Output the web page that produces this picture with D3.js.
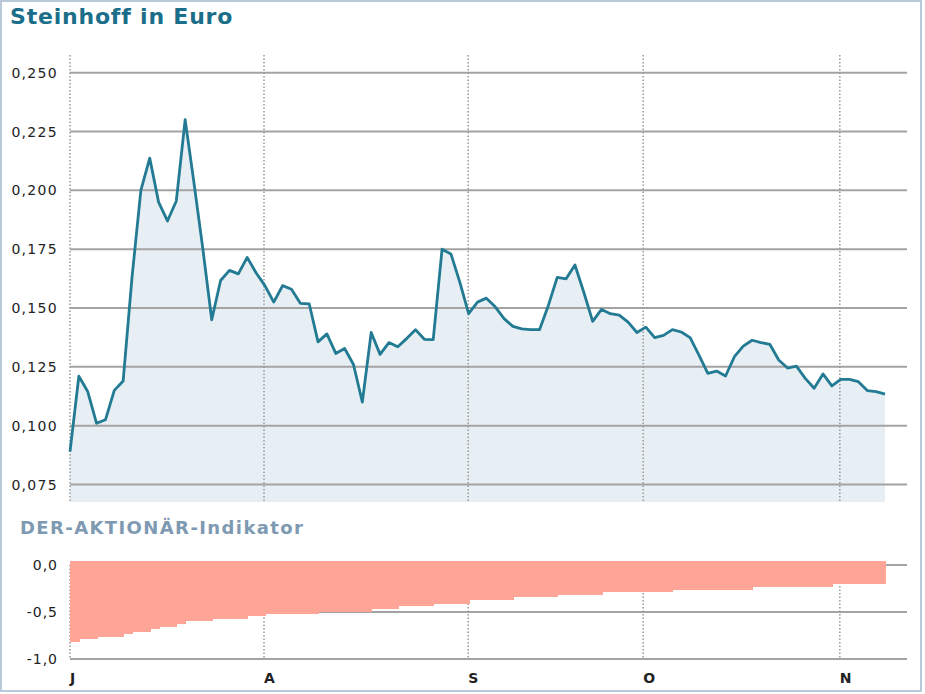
<!DOCTYPE html>
<html><head><meta charset="utf-8">
<script src="https://cdn.jsdelivr.net/npm/d3@7"></script>
<style>body{margin:0;background:#fff}svg{display:block}</style>
</head><body>
<svg id="c" width="925" height="694"></svg>
<script>
// ---- data ----
const title = "Steinhoff in Euro";
const subtitle = "DER-AKTIONÄR-Indikator";
const priceValues = [0.089,0.121,0.1145,0.101,0.1025,0.115,0.119,0.163,0.200,0.2137,
0.195,0.187,0.1955,0.230,0.203,0.175,0.145,0.1617,0.166,0.1645,
0.1715,0.165,0.1595,0.1525,0.1595,0.158,0.152,0.1518,0.1356,0.139,
0.1307,0.1328,0.126,0.110,0.1396,0.1303,0.1353,0.1335,0.137,0.1408,
0.1367,0.1366,0.175,0.173,0.161,0.1476,0.1525,0.1542,0.1505,0.1455,
0.1422,0.1411,0.1408,0.1408,0.1511,0.163,0.1624,0.1683,0.1567,0.1443,
0.1494,0.1476,0.147,0.144,0.1396,0.1419,0.1374,0.1384,0.1408,0.1398,
0.1374,0.130,0.1222,0.1232,0.1211,0.1293,0.1338,0.1363,0.1353,0.1346,
0.1279,0.1245,0.1253,0.1201,0.1159,0.122,0.1169,0.1197,0.1197,0.1187,
0.1149,0.1145,0.1134];
const indicatorValues = [-0.816,-0.79,-0.79,-0.763,-0.763,-0.763,-0.734,-0.71,-0.71,-0.68,
-0.656,-0.656,-0.628,-0.60,-0.60,-0.60,-0.57,-0.57,-0.57,-0.57,
-0.546,-0.546,-0.521,-0.521,-0.521,-0.521,-0.521,-0.521,-0.50,-0.50,
-0.50,-0.50,-0.50,-0.50,-0.465,-0.465,-0.465,-0.436,-0.436,-0.436,
-0.436,-0.41,-0.41,-0.41,-0.41,-0.372,-0.372,-0.372,-0.372,-0.372,
-0.344,-0.344,-0.344,-0.344,-0.344,-0.319,-0.319,-0.319,-0.319,-0.319,
-0.29,-0.29,-0.29,-0.29,-0.29,-0.29,-0.29,-0.29,-0.266,-0.266,
-0.266,-0.266,-0.266,-0.266,-0.266,-0.266,-0.266,-0.238,-0.238,-0.238,
-0.238,-0.238,-0.238,-0.238,-0.238,-0.238,-0.206,-0.206,-0.206,-0.206,
-0.206,-0.206];
const monthLabels = ["J","A","S","O","N"];
const monthPos = [0, 21.9, 44.95, 64.7, 86.9];
const priceTicks = [0.075,0.100,0.125,0.150,0.175,0.200,0.225,0.250];
const indicatorTicks = [0,-0.5,-1];

// ---- layout ----
const svg = d3.select("#c");
const left = 70, right = 907, lineEnd = 885;
const topY0 = 55, topBottom = 502;
const x = d3.scaleLinear().domain([0, priceValues.length - 1]).range([left, lineEnd]);
const y = d3.scaleLinear().domain([0.075, 0.25]).range([484.5, 72.7]);
const yb = d3.scaleLinear().domain([-1, 0]).range([659, 565]);
const fmt = d => d.toFixed(3).replace(".", ",");
const fmtb = d => d.toFixed(1).replace(".", ",");
const gridCol = "#a3a3a3";

// frame
svg.append("rect").attr("x",1).attr("y",1).attr("width",920).attr("height",690)
  .attr("fill","#fff").attr("stroke","#b9c9da").attr("stroke-width",2);

// title
svg.append("text").attr("x",10).attr("y",24).text(title)
  .attr("font-family","DejaVu Sans").attr("font-weight","bold").attr("font-size",22)
  .attr("letter-spacing",0.8).attr("fill","#1b6e89");

// top chart area
const area = d3.area().x((d,i)=>x(i)).y0(topBottom).y1(d=>y(d));
svg.append("path").datum(priceValues).attr("d",area).attr("fill","#e7eff4");

// gridlines top
const gTop = svg.append("g");
gTop.selectAll("line").data(priceTicks).join("line")
  .attr("x1",left).attr("x2",right).attr("y1",d=>y(d)).attr("y2",d=>y(d))
  .attr("stroke",gridCol).attr("stroke-width",2);
gTop.selectAll("text").data(priceTicks).join("text")
  .attr("x",58).attr("y",d=>y(d)+5).attr("text-anchor","end").text(fmt)
  .attr("font-family","DejaVu Sans").attr("font-size",14).attr("letter-spacing",1.3)
  .attr("fill","#222");
// vertical dotted
svg.append("g").selectAll("line").data(monthPos).join("line")
  .attr("x1",d=>x(d)).attr("x2",d=>x(d)).attr("y1",topY0).attr("y2",topBottom+1)
  .attr("stroke","#999").attr("stroke-width",1.5).attr("stroke-dasharray","1.5,2");

// line
const line = d3.line().x((d,i)=>x(i)).y(d=>y(d));
svg.append("path").datum(priceValues).attr("d",line).attr("fill","none")
  .attr("stroke","#227a93").attr("stroke-width",2.8).attr("stroke-linejoin","round");

// subtitle
svg.append("text").attr("x",20).attr("y",534).text(subtitle)
  .attr("font-family","DejaVu Sans").attr("font-weight","bold").attr("font-size",18)
  .attr("letter-spacing",1.4).attr("fill","#7e9ab2");

// bottom chart grid
const gB = svg.append("g");
gB.selectAll("line").data(indicatorTicks).join("line")
  .attr("x1",left).attr("x2",right).attr("y1",d=>yb(d)).attr("y2",d=>yb(d))
  .attr("stroke",gridCol).attr("stroke-width",2);
gB.selectAll("text").data(indicatorTicks).join("text")
  .attr("x",58).attr("y",d=>yb(d)+5).attr("text-anchor","end").text(fmtb)
  .attr("font-family","DejaVu Sans").attr("font-size",14).attr("letter-spacing",1)
  .attr("fill","#222");
svg.append("g").selectAll("line").data(monthPos).join("line")
  .attr("x1",d=>x(d)).attr("x2",d=>x(d)).attr("y1",yb(0)).attr("y2",yb(-1))
  .attr("stroke","#999").attr("stroke-width",1.5).attr("stroke-dasharray","1.5,2");

// bars
svg.append("g").attr("shape-rendering","crispEdges").selectAll("rect").data(indicatorValues).join("rect")
  .attr("x",(d,i)=>x(i)).attr("width",(d,i)=>x(i+1)-x(i)+1)
  .attr("y",yb(0)-4).attr("height",d=>yb(d)-yb(0)+4)
  .attr("fill","#ffa597");

// month labels
svg.append("g").selectAll("text").data(monthLabels).join("text")
  .attr("x",(d,i)=>x(monthPos[i])).attr("y",683).attr("text-anchor","start").text(d=>d)
  .attr("font-family","DejaVu Sans").attr("font-weight","bold").attr("font-size",14)
  .attr("fill","#222");
</script>
</body></html>
